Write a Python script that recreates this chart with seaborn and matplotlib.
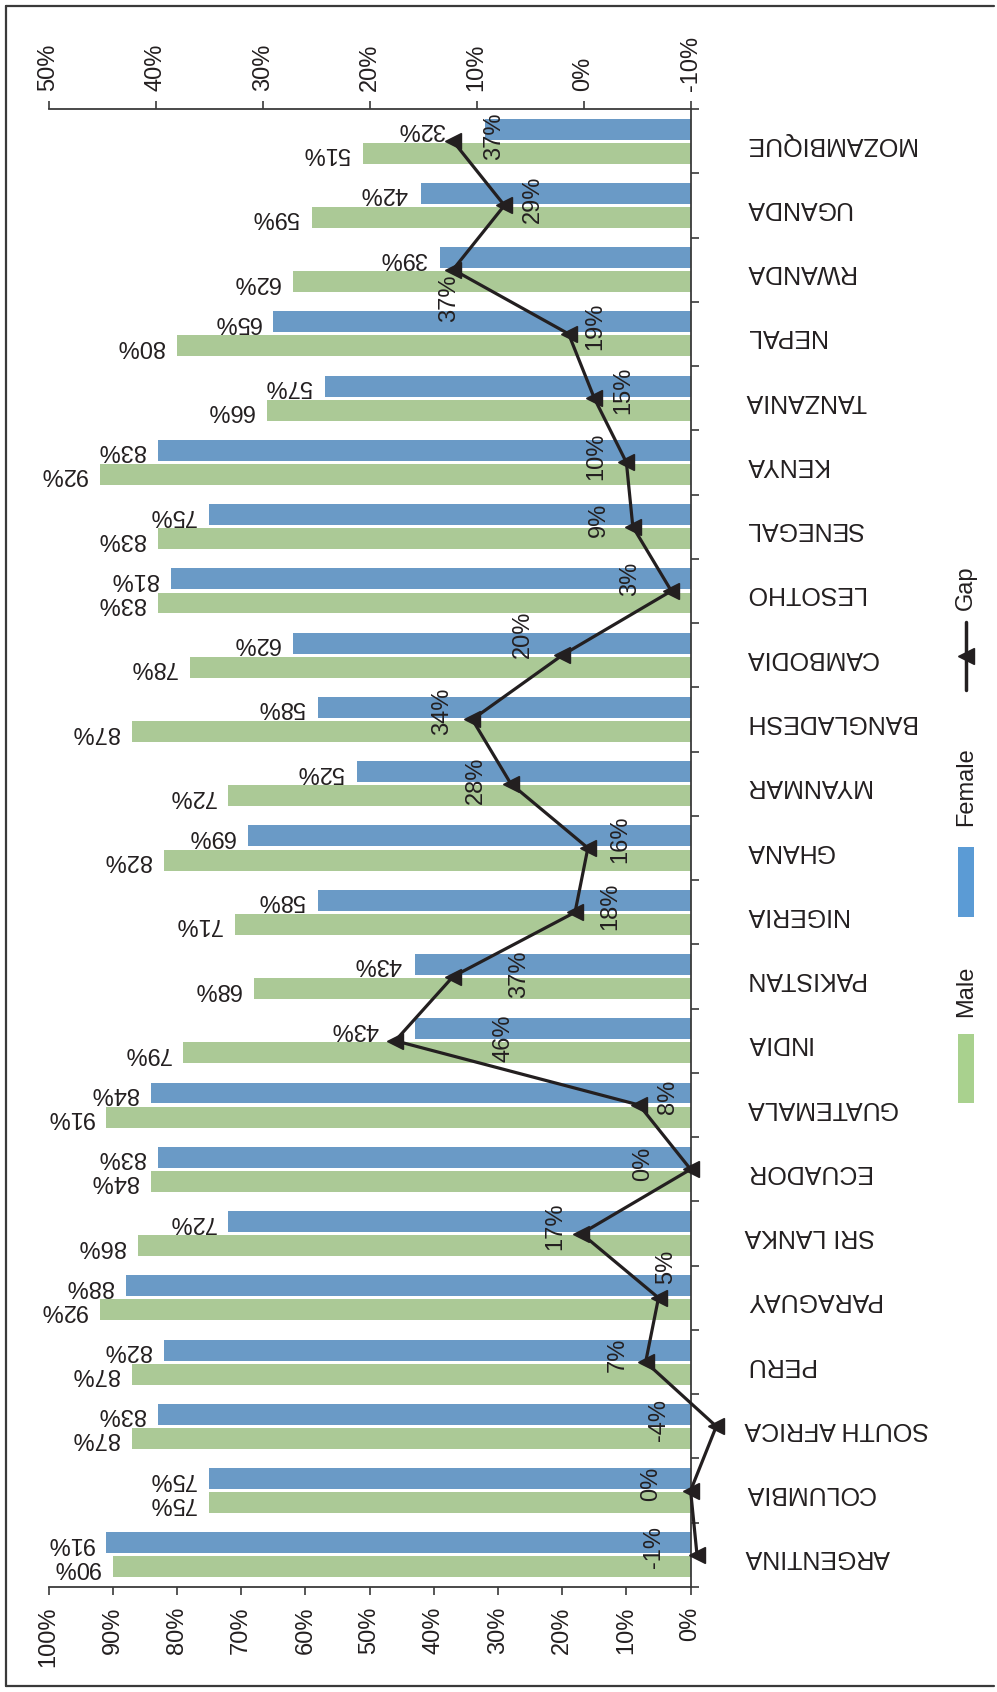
import numpy as np
import pandas as pd
import matplotlib
matplotlib.use("Agg")
import matplotlib.pyplot as plt
import seaborn as sns
from matplotlib.lines import Line2D
from matplotlib.patches import Rectangle

# ---- data (top of chart to bottom) ----
countries = ["MOZAMBIQUE", "UGANDA", "RWANDA", "NEPAL", "TANZANIA", "KENYA",
             "SENEGAL", "LESOTHO", "CAMBODIA", "BANGLADESH", "MYANMAR", "GHANA",
             "NIGERIA", "PAKISTAN", "INDIA", "GUATEMALA", "ECUADOR", "SRI LANKA",
             "PARAGUAY", "PERU", "SOUTH AFRICA", "COLUMBIA", "ARGENTINA"]
female = [32, 42, 39, 65, 57, 83, 75, 81, 62, 58, 52, 69, 58, 43, 43, 84, 83,
          72, 88, 82, 83, 75, 91]
male = [51, 59, 62, 80, 66, 92, 83, 83, 78, 87, 72, 82, 71, 68, 79, 91, 84,
        86, 92, 87, 87, 75, 90]
gap = [37, 29, 37, 19, 15, 10, 9, 3, 20, 34, 28, 16, 18, 37, 46, 8, 0, 17, 5,
       7, -4, 0, -1]

rate_ticks = list(range(0, 101, 10))
gap_ticks = list(range(-10, 51, 10))

# label placement (pixels: right, up) for the gap annotations
gap_label_offsets = [(41, 5), (28, 6), (-4, -29), (27, 8), (29, 8), (-30, 6),
                     (-34, 7), (-41, 12), (-39, 21), (-30, 8), (-35, 3), (32, 9),
                     (35, 6), (66, 2), (108, 3), (29, 8), (-47, 5), (-26, 7),
                     (8, 31), (-28, 7), (-57, 6), (-39, 7), (-43, 8)]
# extra push for bar labels that would sit under a marker
female_label_nudge = {"MOZAMBIQUE": 27, "INDIA": 23}

GREEN = "#A9D18E"
BLUE = "#5B9BD5"
INK = "#231F20"

sns.set_style("white")
plt.rcParams["font.family"] = ["Liberation Sans", "DejaVu Sans"]
plt.rcParams["text.color"] = INK

W, H = 997, 1692
fig = plt.figure(figsize=(W / 100, H / 100), dpi=100)


def fx(px):
    return px / W


def fy(py):
    return 1 - py / H


left_px, right_px, top_px, bottom_px = 48.6, 690.6, 109, 1587
ax = fig.add_axes([fx(left_px), fy(bottom_px),
                   fx(right_px) - fx(left_px), fy(top_px) - fy(bottom_px)])

df = pd.DataFrame({
    "Country": countries * 2,
    "Sex": ["Female"] * len(countries) + ["Male"] * len(countries),
    "Rate": female + male,
})

sns.barplot(data=df, y="Country", x="Rate", hue="Sex",
            order=countries, hue_order=["Female", "Male"],
            palette={"Female": BLUE, "Male": GREEN},
            width=0.75, gap=0.13, orient="h", legend=False,
            edgecolor="none", linewidth=0, ax=ax)

n = len(countries)
pos = np.arange(n)
ax.set_xlim(100, 0)
ax.set_ylim(n - 0.5, -0.5)
ax.set_xlabel("")
ax.set_ylabel("")

# gap line drawn on the rate scale
ax.plot(gap, pos, color=INK, lw=2.3, marker="<", markersize=11,
        markeredgecolor=INK, markerfacecolor=INK, clip_on=False, zorder=5)

FS = 17

# bar value labels
bar_off = 13
for i, c in enumerate(countries):
    yf = i - 0.1875
    ym = i + 0.1875
    nud = female_label_nudge.get(c, 0)
    ax.annotate(f"{female[i]}%", xy=(female[i], yf),
                xytext=(-(bar_off + nud), 0), textcoords="offset pixels",
                rotation=180, rotation_mode="anchor", ha="left", va="center",
                fontsize=FS, color=INK, annotation_clip=False)
    ax.annotate(f"{male[i]}%", xy=(male[i], ym),
                xytext=(-bar_off, 0), textcoords="offset pixels",
                rotation=180, rotation_mode="anchor", ha="left", va="center",
                fontsize=FS, color=INK, annotation_clip=False)

# gap value labels
for i, g in enumerate(gap):
    dx, dy = gap_label_offsets[i]
    ax.annotate(f"{g}%", xy=(g, i), xytext=(dx, dy),
                textcoords="offset pixels", rotation=90,
                rotation_mode="anchor", ha="center", va="center",
                fontsize=FS, color=INK, zorder=6, annotation_clip=False)

# axes styling
for s in ["left", "top"]:
    ax.spines[s].set_visible(False)
for s in ["right", "bottom"]:
    ax.spines[s].set_color("#3a3a3a")
    ax.spines[s].set_linewidth(1.3)

ax.set_xticks(rate_ticks, labels=[f"{t}%" for t in rate_ticks])
ax.tick_params(axis="x", bottom=True, direction="out", length=6, width=1.2,
               color="#3a3a3a", pad=8, labelrotation=90, labelsize=FS,
               labelcolor=INK)

ax.yaxis.tick_right()
ax.set_yticks(np.arange(n + 1) - 0.5, labels=[""] * (n + 1))
ax.set_yticks(pos, labels=countries, minor=True)
ax.tick_params(axis="y", which="major", right=True, left=False,
               direction="out", length=6, width=1.2, color="#3a3a3a")
ax.tick_params(axis="y", which="minor", right=True, left=False, length=0,
               pad=39, labelrotation=180, labelsize=18, labelcolor=INK)

ax2 = ax.twiny()
ax2.set_xlim(50, -10)
ax2.set_xticks(gap_ticks, labels=[f"{t}%" for t in gap_ticks])
for s in ["left", "right", "bottom"]:
    ax2.spines[s].set_visible(False)
ax2.spines["top"].set_color("#3a3a3a")
ax2.spines["top"].set_linewidth(1.3)
ax2.tick_params(axis="x", top=True, direction="out", length=6, width=1.2,
                color="#3a3a3a", pad=7, labelrotation=90, labelsize=FS,
                labelcolor=INK)

# legend, stacked vertically at the right
lx = 966
fig.add_artist(Rectangle((fx(lx - 8), fy(1103)), 16 / W, (1103 - 1034) / H,
                         transform=fig.transFigure, facecolor=GREEN,
                         edgecolor="none"))
fig.text(fx(lx), fy(991), "Male", rotation=90, ha="center", va="center",
         fontsize=FS, color=INK)
fig.add_artist(Rectangle((fx(lx - 8), fy(917)), 16 / W, (917 - 847) / H,
                         transform=fig.transFigure, facecolor=BLUE,
                         edgecolor="none"))
fig.text(fx(lx), fy(787), "Female", rotation=90, ha="center", va="center",
         fontsize=FS, color=INK)
fig.add_artist(Line2D([fx(lx), fx(lx)], [fy(690), fy(622)],
                      transform=fig.transFigure, color=INK, lw=2.5))
fig.add_artist(Line2D([fx(lx)], [fy(656)], transform=fig.transFigure,
                      marker="<", markersize=11, color=INK, lw=0))
fig.text(fx(lx), fy(588), "Gap", rotation=90, ha="center", va="center",
         fontsize=FS, color=INK)

# outer frame
frame_kw = dict(transform=fig.transFigure, color="#3a3a3a", lw=1.6)
fig.add_artist(Line2D([fx(6), fx(6)], [fy(6), fy(1686)], **frame_kw))
fig.add_artist(Line2D([fx(6), fx(994)], [fy(6), fy(6)], **frame_kw))
fig.add_artist(Line2D([fx(6), fx(994)], [fy(1686), fy(1686)], **frame_kw))

fig.savefig("out.png", dpi=100)
